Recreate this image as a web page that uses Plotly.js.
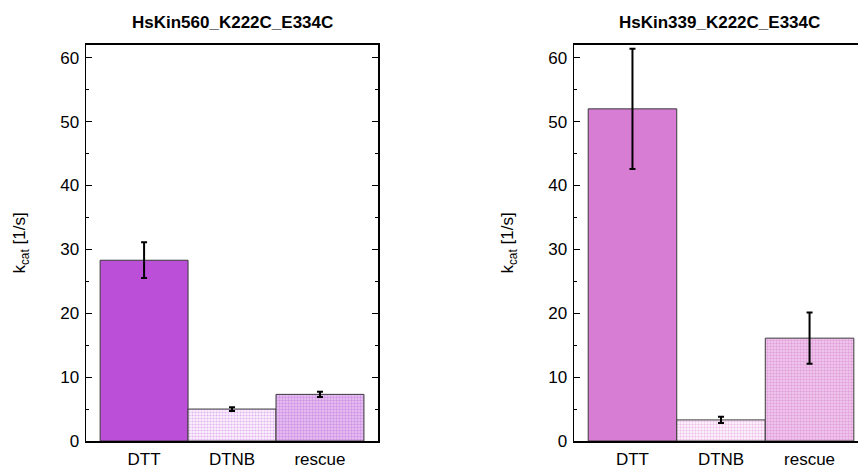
<!DOCTYPE html>
<html>
<head>
<meta charset="utf-8">
<script src="https://cdn.plot.ly/plotly-3.0.1.min.js"></script>
<style>
html,body{margin:0;padding:0;overflow:hidden;background:#fff;}
#chart{width:870px;height:470px;}
</style>
</head>
<body>
<div id="chart"></div>
<script>
const categories = ["DTT", "DTNB", "rescue"];
const titleLeft = "HsKin560_K222C_E334C";
const titleRight = "HsKin339_K222C_E334C";
const kcatLeft = [28.3, 5.0, 7.3];
const errLeft = [2.8, 0.3, 0.4];
const kcatRight = [52.0, 3.3, 16.1];
const errRight = [9.4, 0.5, 4.0];
const yTicks = [0, 10, 20, 30, 40, 50, 60];

const font = "Liberation Sans";

// style per category: [bg, fg, solidity] (fg null => solid)
const stylesLeft = [["#BB4FD7", null, 0], ["#fcf3fd", "#e0b2f0", 0.4], ["#ebc8f4", "#d094e6", 0.5]];
const stylesRight = [["#D87DD4", null, 0], ["#fdf3fc", "#edbce9", 0.4], ["#f4d0f0", "#e2a0dd", 0.5]];

function barTraces(vals, errs, xa, ya, styles) {
  return categories.map(function (c, i) {
    const s = styles[i];
    const marker = {color: s[0], line: {color: "#3a3a3a", width: 1}};
    if (s[1]) {
      marker.pattern = {shape: ".", fillmode: "replace", bgcolor: s[0], fgcolor: s[1], fgopacity: 1, size: 3, solidity: s[2]};
    }
    return {
      type: "bar",
      x: [c],
      y: [vals[i]],
      xaxis: xa, yaxis: ya,
      width: 1,
      error_y: {type: "data", array: [errs[i]], visible: true, color: "#000", thickness: 2, width: 3},
      marker: marker,
      showlegend: false,
      hoverinfo: "skip"
    };
  });
}

const data = barTraces(kcatLeft, errLeft, "x", "y", stylesLeft)
  .concat(barTraces(kcatRight, errRight, "x2", "y2", stylesRight));

function yax() {
  return {
    domain: [0.0617, 0.9043],
    range: [0, 62],
    tickvals: yTicks,
    ticktext: yTicks.map(String),
    ticks: "inside", ticklen: 6, tickwidth: 1, tickcolor: "#000",
    minor: {dtick: 5, ticks: "inside", ticklen: 3, tickcolor: "#000", showgrid: false},
    showline: true, linecolor: "#000", linewidth: 1.5, mirror: "ticks",
    showgrid: false, zeroline: false,
    tickfont: {family: font, size: 17, color: "#000"},
    ticklabelstandoff: 2,
    title: {text: "k<sub>cat</sub> [1/s]", font: {family: font, size: 17, color: "#000"}, standoff: 30},
    fixedrange: true
  };
}
function xax(domain, yname) {
  return {
    domain: domain,
    anchor: yname,
    range: [-0.66, 2.66],
    type: "category",
    categoryorder: "array", categoryarray: categories,
    showline: true, linecolor: "#000", linewidth: 1.5, mirror: true,
    ticks: "", showgrid: false, zeroline: false,
    tickfont: {family: font, size: 17, color: "#000"},
    ticklabelstandoff: 2,
    fixedrange: true
  };
}

const layout = {
  width: 870, height: 470,
  margin: {l: 0, r: 0, t: 0, b: 0},
  paper_bgcolor: "#fff", plot_bgcolor: "#fff",
  bargap: 0,
  barmode: "overlay",
  xaxis: xax([0.0989, 0.4345], "y"),
  yaxis: Object.assign(yax(), {anchor: "x"}),
  xaxis2: xax([0.6598, 0.9977], "y2"),
  yaxis2: Object.assign(yax(), {anchor: "x2"}),
  annotations: [
    {text: "<b>" + titleLeft + "</b>", xref: "paper", yref: "paper", x: 0.2667, y: 0.953, xanchor: "center", yanchor: "middle", showarrow: false, font: {family: font, size: 17, color: "#000"}},
    {text: "<b>" + titleRight + "</b>", xref: "paper", yref: "paper", x: 0.8265, y: 0.953, xanchor: "center", yanchor: "middle", showarrow: false, font: {family: font, size: 17, color: "#000"}}
  ]
};

Plotly.newPlot("chart", data, layout, {displayModeBar: false, staticPlot: true});
</script>
</body>
</html>
